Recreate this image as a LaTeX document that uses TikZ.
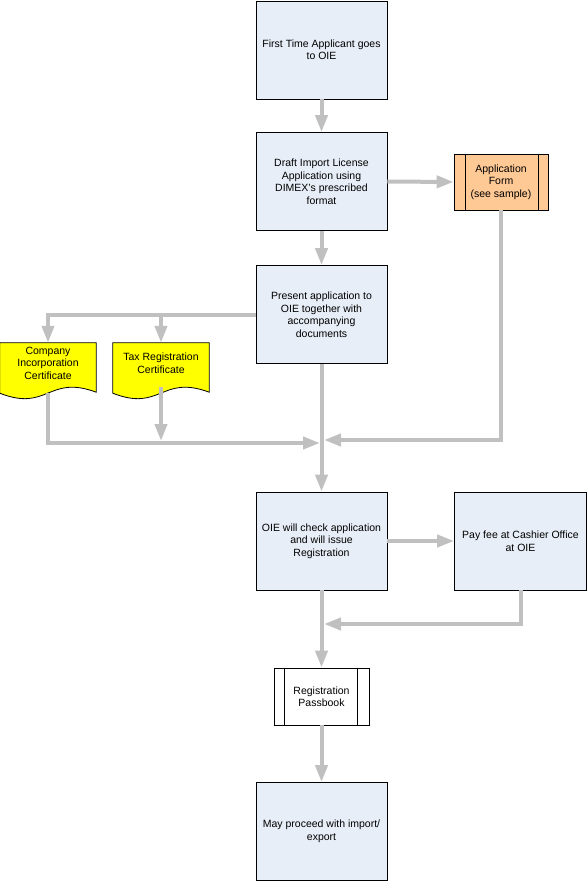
\documentclass[tikz,border=0pt]{standalone}
\usepackage{fontspec}
\setmainfont{Liberation Sans}
\usetikzlibrary{arrows.meta,calc}
\definecolor{boxblue}{HTML}{E8EEF7}
\definecolor{formorange}{HTML}{FFC995}
\definecolor{docyellow}{HTML}{FFFF00}
\definecolor{linegray}{HTML}{C0C0C0}
\tikzset{
  stepbox/.style={draw=black, line width=0.8pt, fill=boxblue, minimum width=131pt, minimum height=98pt, inner sep=0pt, align=center, font=\fontsize{10.5}{12.5}\selectfont},
  subproc/.style={draw=black, line width=0.8pt, inner sep=0pt, align=center, font=\fontsize{10.5}{12.5}\selectfont},
  doctext/.style={draw=none, inner sep=0pt, minimum width=96pt, minimum height=40pt, align=center, font=\fontsize{10.5}{12.5}\selectfont},
  docshape/.style={draw=black, line width=0.8pt, fill=docyellow},
  conn/.style={draw=linegray, line width=4pt, -{Triangle[length=17pt,width=12pt]}},
  plainconn/.style={draw=linegray, line width=4pt}
}
\begin{document}
\begin{tikzpicture}[x=1pt,y=-1pt]
\useasboundingbox (0,0) rectangle (587,882);
% process boxes
\node[stepbox] (b1) at (321.5,50) {First Time Applicant goes\\to OIE};
\node[stepbox] (b2) at (321.5,181.5) {Draft Import License\\Application using\\DIMEX's prescribed\\format};
\node[stepbox] (b3) at (321.5,314.5) {Present application to\\OIE together with\\accompanying\\documents};
\node[stepbox] (b4) at (321.5,541) {OIE will check application\\and will issue\\Registration};
\node[stepbox, minimum width=132pt] (b5) at (520.5,541) {Pay fee at Cashier Office\\at OIE};
\node[stepbox] (b6) at (321.5,831.5) {May proceed with import/\\export};
% subprocesses
\node[subproc, fill=formorange, minimum width=94pt, minimum height=56pt] (form) at (501,182) {Application\\Form\\(see sample)};
\draw[line width=0.8pt] ($(form.north west)+(12,0)$) -- ($(form.south west)+(12,0)$);
\draw[line width=0.8pt] ($(form.north east)+(-10,0)$) -- ($(form.south east)+(-10,0)$);
\node[subproc, fill=white, minimum width=95pt, minimum height=57pt] (pass) at (321.5,696.5) {Registration\\Passbook};
\draw[line width=0.8pt] ($(pass.north west)+(11,0)$) -- ($(pass.south west)+(11,0)$);
\draw[line width=0.8pt] ($(pass.north east)+(-12,0)$) -- ($(pass.south east)+(-12,0)$);
% documents
\node[doctext] (docA) at (48,363) {};
\node[doctext] (docB) at (161,363) {};
\draw[docshape] (docA.north west) -- (docA.north east) -- ($(docA.south east)+(0,9)$)
  .. controls ($(docA.south)+(0,-9)$) and ($(docA.south)+(0,29)$) .. ($(docA.south west)+(0,10)$) -- cycle;
\draw[docshape] (docB.north west) -- (docB.north east) -- ($(docB.south east)+(0,9)$)
  .. controls ($(docB.south)+(0,-9)$) and ($(docB.south)+(0,29)$) .. ($(docB.south west)+(0,10)$) -- cycle;
\node[doctext] (docAt) at (docA) {Company\\Incorporation\\Certificate};
\node[doctext] (docBt) at (docB) {Tax Registration\\Certificate};
% merge points
\coordinate (m1) at (322,443);
\coordinate (m2) at (322,440);
\coordinate (m3) at (322,624);
% connectors
\draw[conn] (b1) -- (b2);
\draw[conn] (b2.east) -- (form.west);
\draw[conn] (b2) -- (b3);
\draw[conn] (b3.west) -| (docA.north);
\draw[conn] (b3.west) -| (docB.north);
\draw[conn, shorten >=2pt] ($(docA.south)+(0,10)$) |- (m1);
\draw[conn, shorten >=2pt] ($(docB.south)+(0,4)$) -- (docB.south |- m1);
\draw[conn, shorten >=2pt] (form.south) |- (m2);
\draw[conn] (b3) -- (b4);
\draw[conn] (b4.east) -- (b5.west);
\draw[conn, shorten >=2pt] (b5.south) |- (m3);
\draw[conn] (b4) -- (pass);
\draw[conn] (pass) -- (b6);
\end{tikzpicture}
\end{document}
